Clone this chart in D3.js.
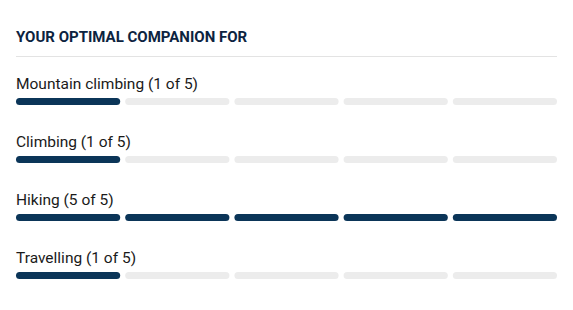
<!DOCTYPE html>
<html>
<head>
<meta charset="utf-8">
<script src="https://cdn.jsdelivr.net/npm/d3@7"></script>
<style>
  body { margin: 0; background: #fff; }
  svg { display: block; }
</style>
</head>
<body>
<svg id="chart"></svg>
<script>
const title = "YOUR OPTIMAL COMPANION FOR";
const activities = ["Mountain climbing", "Climbing", "Hiking", "Travelling"];
const scores = [1, 1, 5, 1];
const maxScore = 5;

const width = 573, height = 310;
const margin = { left: 16, right: 16 };

const svg = d3.select("#chart")
  .attr("width", width)
  .attr("height", height);

// title + divider
svg.append("text")
  .attr("x", margin.left)
  .attr("y", 42)
  .attr("font-family", "Roboto, sans-serif")
  .attr("font-weight", 700)
  .attr("font-size", 15)
  .attr("fill", "#0c2340")
  .text(title);

svg.append("line")
  .attr("x1", margin.left)
  .attr("x2", width - margin.right)
  .attr("y1", 56.5)
  .attr("y2", 56.5)
  .attr("stroke", "#e3e3e3")
  .attr("stroke-width", 1);

const steps = d3.range(1, maxScore + 1);

const x = d3.scaleBand()
  .domain(steps)
  .range([margin.left, width - margin.right])
  .paddingInner(0.046);

const y = d3.scalePoint()
  .domain(activities)
  .range([98, 272]);

const barH = 7;

const row = svg.selectAll("g.row")
  .data(activities.map((a, i) => ({ name: a, score: scores[i] })))
  .join("g")
  .attr("class", "row")
  .attr("transform", d => `translate(0,${y(d.name)})`);

row.append("text")
  .attr("x", margin.left)
  .attr("y", -9)
  .attr("font-family", "Roboto, sans-serif")
  .attr("font-size", 15.5)
  .attr("fill", "#1a1a1a")
  .text(d => `${d.name} (${d.score} of ${maxScore})`);

row.selectAll("rect")
  .data(d => steps.map(s => ({ s, on: s <= d.score })))
  .join("rect")
  .attr("x", d => x(d.s))
  .attr("y", 0)
  .attr("width", x.bandwidth())
  .attr("height", barH)
  .attr("rx", barH / 2)
  .attr("fill", d => d.on ? "#0b3558" : "#ececec");
</script>
</body>
</html>
